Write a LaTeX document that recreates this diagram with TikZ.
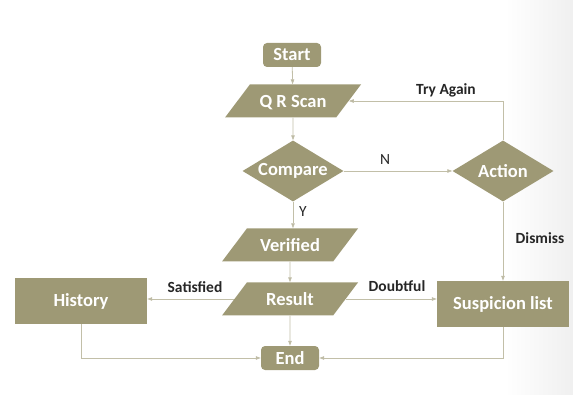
\documentclass[tikz,border=0pt]{standalone}
\usepackage{fontspec}
\setmainfont{Carlito}
\usetikzlibrary{shapes.geometric,arrows.meta}
\definecolor{boxfill}{HTML}{9E9975}
\definecolor{linecol}{HTML}{C2BFA8}
\definecolor{labelcol}{HTML}{262626}
\tikzset{
	base/.style={fill=boxfill, text=white, font=\fontsize{18.5}{20}\selectfont\bfseries, inner sep=0pt},
	term/.style={base, rectangle, rounded corners=4pt, minimum width=58pt, minimum height=24pt},
	io/.style={base, trapezium, trapezium left angle=53, trapezium right angle=127,
		trapezium stretches body, text height=13pt, text depth=0pt, inner ysep=10pt,
		minimum width=136pt},
	decide/.style={base, diamond, aspect=1.6, minimum width=101pt, minimum height=61pt},
	proc/.style={base, rectangle, minimum width=132pt, minimum height=46pt},
	arr/.style={draw=linecol, line width=0.8pt, -{Triangle[length=5pt,width=3.5pt,fill=linecol!80!gray]}},
	lbl/.style={text=labelcol, font=\fontsize{15.5}{17}\selectfont\bfseries},
	yn/.style={text=labelcol, font=\fontsize{15.5}{17}\selectfont}
}
\begin{document}
\begin{tikzpicture}[x=1pt, y=-1pt]
	\useasboundingbox (0,0) rectangle (573,395);
	\shade[left color=white, right color=black!6] (505,0) rectangle (573,395);
	% flow nodes
	\node[term] (start) at (292,55) {Start};
	\node[io] (scan) at (293,101) {Q R Scan};
	\node[decide] (compare) at (293,171) {Compare};
	\node[decide] (action) at (503,171) {Action};
	\node[io] (verified) at (290,245) {Verified};
	\node[io] (result) at (290,299) {Result};
	\node[proc] (history) at (81,301) {History};
	\node[proc] (suspect) at (503,304) {Suspicion list};
	\node[term] (end) at (290,358) {End};
	% labels
	\node[lbl] (tryagain) at (446,90) {Try Again};
	\node[yn] (no) at (385,160) {N};
	\node[yn] (yes) at (303,212) {Y};
	\node[lbl] (dismiss) at (540,238) {Dismiss};
	\node[lbl] (satisfied) at (195,287) {Satisfied};
	\node[lbl] (doubtful) at (397,286) {Doubtful};
	% connectors
	\draw[arr] (start) -- (scan);
	\draw[arr] (scan) -- (compare);
	\draw[arr] (compare.east) -- (action.west);
	\draw[arr] (action.north) |- (scan.east);
	\draw[arr] (compare.south) -- (compare.south |- verified.north);
	\draw[arr] (verified) -- (result);
	\draw[arr] (action.south) -- (suspect.north);
	\draw[arr] (result.west) -- (result.west -| history.east);
	\draw[arr] (result.east) -- (result.east -| suspect.west);
	\draw[arr] (result) -- (end);
	\draw[arr] (history.south) |- (end.west);
	\draw[arr] (suspect.south) |- (end.east);
\end{tikzpicture}
\end{document}
